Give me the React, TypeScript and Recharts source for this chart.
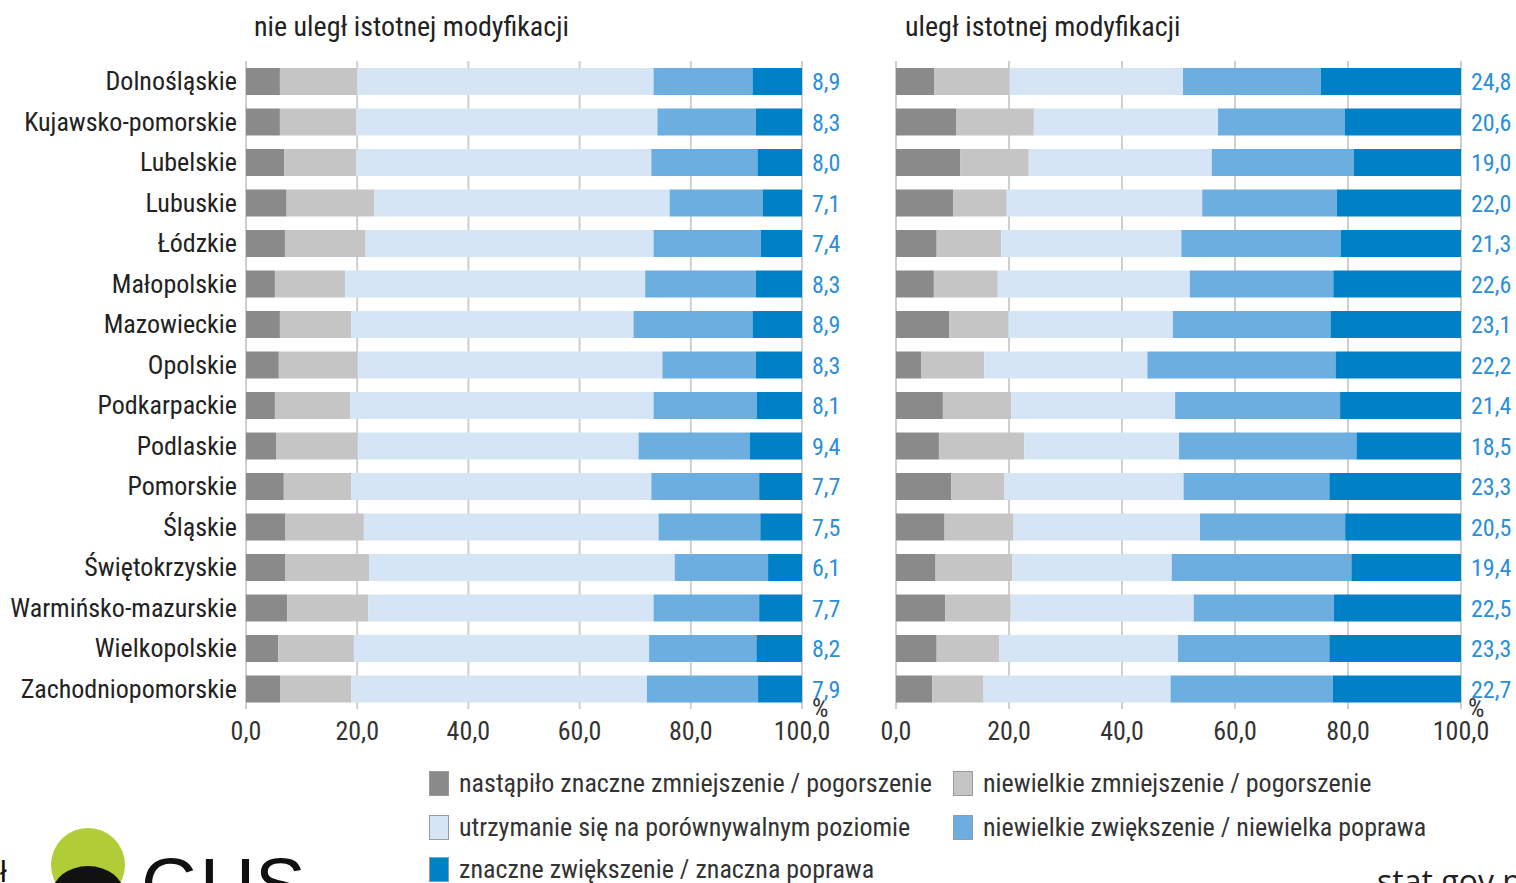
import React from 'react';
import { BarChart, Bar, XAxis, YAxis, CartesianGrid, LabelList } from 'recharts';

const FONT = "'Liberation Sans Narrow', 'Arial Narrow', 'Roboto Condensed', 'Liberation Sans', sans-serif";

const regions = [
  'Dolnośląskie', 'Kujawsko-pomorskie', 'Lubelskie', 'Lubuskie', 'Łódzkie', 'Małopolskie',
  'Mazowieckie', 'Opolskie', 'Podkarpackie', 'Podlaskie', 'Pomorskie', 'Śląskie',
  'Świętokrzyskie', 'Warmińsko-mazurskie', 'Wielkopolskie', 'Zachodniopomorskie',
];

const seriesNames = [
  'nastąpiło znaczne zmniejszenie / pogorszenie',
  'niewielkie zmniejszenie / pogorszenie',
  'utrzymanie się na porównywalnym poziomie',
  'niewielkie zwiększenie / niewielka poprawa',
  'znaczne zwiększenie / znaczna poprawa',
];
const seriesColors = ['#8a8a8a', '#c5c5c5', '#d5e5f6', '#6caedf', '#0080c6'];
const xTicks = [0, 20, 40, 60, 80, 100];

const leftTitle = 'nie uległ istotnej modyfikacji';
const rightTitle = 'uległ istotnej modyfikacji';

// "nie uległ istotnej modyfikacji"
const leftStrongDecrease = [6.1, 6.1, 6.9, 7.3, 7.0, 5.2, 6.1, 5.9, 5.2, 5.4, 6.8, 7.1, 7.1, 7.4, 5.8, 6.2];
const leftSlightDecrease = [13.9, 13.7, 12.9, 15.8, 14.5, 12.6, 12.8, 14.2, 13.5, 14.7, 12.1, 14.1, 15.1, 14.6, 13.6, 12.7];
const leftSame = [53.3, 54.2, 53.1, 53.1, 51.8, 54.0, 50.8, 54.8, 54.6, 50.5, 54.0, 53.0, 54.9, 51.3, 53.1, 53.2];
const leftSlightIncrease = [17.8, 17.7, 19.1, 16.7, 19.3, 19.9, 21.4, 16.8, 18.6, 20.0, 19.4, 18.3, 16.8, 19.0, 19.3, 20.0];
const leftStrongIncrease = [8.9, 8.3, 8.0, 7.1, 7.4, 8.3, 8.9, 8.3, 8.1, 9.4, 7.7, 7.5, 6.1, 7.7, 8.2, 7.9];

// "uległ istotnej modyfikacji"
const rightStrongDecrease = [6.8, 10.7, 11.4, 10.1, 7.2, 6.7, 9.4, 4.5, 8.3, 7.6, 9.8, 8.6, 7.0, 8.7, 7.2, 6.4];
const rightSlightDecrease = [13.3, 13.7, 12.1, 9.5, 11.4, 11.3, 10.5, 11.1, 12.1, 15.1, 9.4, 12.2, 13.6, 11.6, 11.1, 9.1];
const rightSame = [30.7, 32.6, 32.4, 34.6, 31.9, 34.0, 29.1, 28.9, 29.0, 27.4, 31.7, 33.0, 28.2, 32.4, 31.6, 33.1];
const rightSlightIncrease = [24.4, 22.4, 25.1, 23.8, 28.2, 25.4, 27.9, 33.3, 29.2, 31.4, 25.8, 25.7, 31.8, 24.8, 26.8, 28.7];
const rightStrongIncrease = [24.8, 20.6, 19.0, 22.0, 21.3, 22.6, 23.1, 22.2, 21.4, 18.5, 23.3, 20.5, 19.4, 22.5, 23.3, 22.7];

const seriesKeys = ['s0', 's1', 's2', 's3', 's4'];

const buildRows = (cols: number[][]) =>
  regions.map((region, i) => {
    const row: Record<string, string | number> = { region };
    cols.forEach((c, k) => { row[seriesKeys[k]] = c[i]; });
    return row;
  });

const leftData = buildRows([leftStrongDecrease, leftSlightDecrease, leftSame, leftSlightIncrease, leftStrongIncrease]);
const rightData = buildRows([rightStrongDecrease, rightSlightDecrease, rightSame, rightSlightIncrease, rightStrongIncrease]);

const fmt = (v: any) => Number(v).toFixed(1).replace('.', ',');

const axisTick = { fontSize: 26, fill: '#333', fontFamily: FONT, dy: 5 };

function Panel({ data, width, height, margin, showCategories }: any) {
  return (
    <BarChart
      width={width}
      height={height}
      data={data}
      layout="vertical"
      margin={margin}
      barSize={27}
    >
      <CartesianGrid horizontal={false} stroke="#cfcfcf" strokeWidth={2} />
      <XAxis
        type="number"
        domain={[0, 100]}
        ticks={xTicks}
        tickFormatter={fmt}
        axisLine={false}
        tickLine={false}
        height={40}
        tick={axisTick}
        interval={0}
      />
      <YAxis
        type="category"
        dataKey="region"
        hide={!showCategories}
        width={246}
        axisLine={false}
        tickLine={false}
        interval={0}
        tick={{ fontSize: 26, fill: '#222', fontFamily: FONT, dx: -1 }}
      />
      {seriesKeys.map((k, idx) => (
        <Bar
          key={k}
          dataKey={k}
          name={seriesNames[idx]}
          stackId="a"
          fill={seriesColors[idx]}
          isAnimationActive={false}
        >
          {idx === seriesKeys.length - 1 && (
            <LabelList
              dataKey={k}
              position="right"
              offset={10}
              formatter={fmt}
              fill="#2a8fd6"
              fontSize={24}
              fontFamily={FONT}
            />
          )}
        </Bar>
      ))}
    </BarChart>
  );
}

const textStyle: React.CSSProperties = {
  position: 'absolute',
  fontFamily: FONT,
  fontSize: 28,
  color: '#222',
  whiteSpace: 'nowrap',
  lineHeight: 1,
};

export default function App() {
  const legendPos = [
    { x: 429, y: 770 },
    { x: 953, y: 770 },
    { x: 429, y: 814 },
    { x: 953, y: 814 },
    { x: 429, y: 856 },
  ];
  return (
    <div style={{ position: 'absolute', left: 0, top: 0, width: 1516, height: 883, overflow: 'hidden', background: '#fff' }}>
      <div style={{ ...textStyle, left: 254, top: 13 }}>{leftTitle}</div>
      <div style={{ ...textStyle, left: 905, top: 13 }}>{rightTitle}</div>

      <div style={{ position: 'absolute', left: 0, top: 0 }}>
        <Panel
          data={leftData}
          width={860}
          height={760}
          margin={{ top: 61, right: 58, bottom: 11, left: 0 }}
          showCategories
        />
      </div>
      <div style={{ position: 'absolute', left: 870, top: 0 }}>
        <Panel
          data={rightData}
          width={646}
          height={760}
          margin={{ top: 61, right: 55, bottom: 11, left: 26 }}
          showCategories={false}
        />
      </div>

      <div style={{ ...textStyle, left: 812, top: 695, fontSize: 26, color: '#333' }}>%</div>
      <div style={{ ...textStyle, left: 1468, top: 695, fontSize: 26, color: '#333' }}>%</div>

      {seriesNames.map((name, i) => (
        <div key={name} style={{ position: 'absolute', left: legendPos[i].x, top: legendPos[i].y, display: 'flex', alignItems: 'center' }}>
          <div style={{ width: 20, height: 25, background: seriesColors[i], border: '1px solid #9a9a9a', boxSizing: 'border-box' }} />
          <div style={{ fontFamily: FONT, fontSize: 26, color: '#333', marginLeft: 10, whiteSpace: 'nowrap', lineHeight: '26px' }}>{name}</div>
        </div>
      ))}

      <svg style={{ position: 'absolute', left: 0, top: 820 }} width={340} height={63}>
        <circle cx={88} cy={45} r={37} fill="#b0cc36" />
        <ellipse cx={88} cy={74} rx={36} ry={28} fill="#111" />
        <text x={141} y={91} fontSize={76} fill="#111" fontFamily="'Liberation Sans', sans-serif">GUS</text>
        <text x={0} y={62} fontSize={30} fill="#111" fontFamily="'Liberation Sans', sans-serif">ł</text>
      </svg>
      <div style={{ ...textStyle, left: 1377, top: 865, fontSize: 32, color: '#222', fontFamily: "'Open Sans', sans-serif" }}>stat.gov.pl</div>
    </div>
  );
}
